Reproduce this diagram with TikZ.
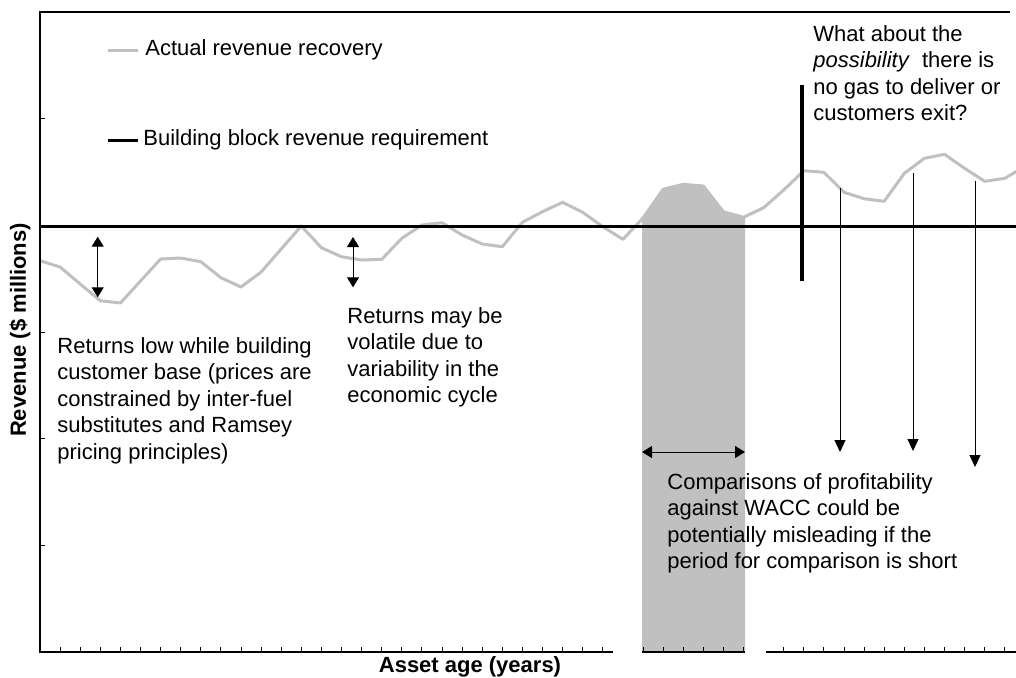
\documentclass[tikz,border=0pt]{standalone}
\usepackage{fontspec}
\setmainfont{Liberation Sans}
\usetikzlibrary{arrows.meta}
\definecolor{silver}{RGB}{192,192,192}
\begin{document}
\begin{tikzpicture}[x=0.5pt,y=-0.5pt,
  txt/.style={font=\fontsize{11}{13.25}\selectfont, align=left, inner sep=0pt, anchor=north west},
  legtxt/.style={font=\fontsize{11}{13.25}\selectfont, inner sep=0pt, anchor=west},
  lbl/.style={font=\fontsize{11}{13.25}\selectfont\bfseries, inner sep=0pt},
  revline/.style={draw=silver, line width=1.5pt, line join=round},
  reqline/.style={draw=black, line width=1.5pt},
  axisline/.style={draw=black, line width=0.6pt},
  tickmark/.style={draw=black, line width=0.5pt},
  dbl/.style={{Triangle[length=5pt,width=6pt]}-{Triangle[length=5pt,width=6pt]}, line width=0.5pt},
  drop/.style={-{Triangle[length=6pt,width=5.5pt]}, line width=0.5pt},
  cutoff/.style={draw=black, line width=2pt}
]
\useasboundingbox (0,0) rectangle (1016,677);
\begin{scope}
\clip (0,0) rectangle (1016,677);
% shaded comparison period
\fill[silver] (642,652) -- (642,218) -- (663.1,189.3) -- (683.2,184.3) -- (703.3,186) -- (723.4,211.7) -- (745,217.3) -- (745,652) -- cycle;
% actual revenue recovery
\draw[revline] plot coordinates {
(40,260.7) (60.1,267) (80.2,284) (100.3,300.7) (120.4,303) (140.5,281)
(160.6,259) (180.7,258) (200.8,261.7) (220.9,277.7) (241,287) (261.1,272)
(281.2,249) (301.3,226) (321.4,247.7) (341.5,256.7) (361.6,260) (381.7,259.3)
(401.8,238.3) (421.9,225) (442,222.7) (462.1,235) (482.2,244) (502.3,246.7)
(522.4,222.3) (542.5,211.7) (562.6,202.3) (582.7,212.3) (602.8,226.7) (622.9,239.3)
(643,218) (663.1,189.3) (683.2,184.3) (703.3,186) (723.4,211.7) (743.5,217.3)
(763.6,207.7) (783.7,190) (803.8,170.7) (823.9,172.3) (844,192.3) (864.1,198.7)
(884.2,201.3) (904.3,173.3) (924.4,158.3) (944.5,154.3) (964.6,168.3) (984.7,181.3)
(1004.8,178.3) (1024.9,166.5)};
% building block revenue requirement
\coordinate (reqL) at (40,226);
\coordinate (reqR) at (1020,226);
\draw[reqline] (reqL) -- (reqR);
\end{scope}
% axes
\coordinate (topR) at (1010,12);
\coordinate (origin) at (40,12);
\coordinate (corner) at (40,652);
\draw[axisline] (topR) -- (origin) -- (corner) -- (613,652);
\draw[axisline] (642,652) -- (745,652);
\draw[axisline] (766,652) -- (1016,652);
\foreach \k in {1,...,28,30,31,...,35,37,38,...,48}
  \draw[tickmark] ({40+20.1*\k},652) -- ({40+20.1*\k},647);
\foreach \j in {1,...,5}
  \draw[tickmark] (40,{12+106.67*\j}) -- (45,{12+106.67*\j});
% legend
\coordinate (lg1a) at (108,50); \coordinate (lg1b) at (138,50);
\draw[revline] (lg1a) -- (lg1b);
\node[legtxt] (leg1) at (145,50) {Actual revenue recovery};
\coordinate (lg2a) at (108,140); \coordinate (lg2b) at (138,140);
\draw[reqline] (lg2a) -- (lg2b);
\node[legtxt] (leg2) at (143,140) {Building block revenue requirement};
% annotations
\node[txt] (low) at (57,337) {Returns low while building\\customer base (prices are\\constrained by inter-fuel\\substitutes and Ramsey\\pricing principles)};
\node[txt] (vol) at (347,307) {Returns may be\\volatile due to\\variability in the\\economic cycle};
\node[txt] (cmp) at (667,473) {Comparisons of profitability\\against WACC could be\\potentially misleading if the\\period for comparison is short};
\node[txt] (what) at (813,25) {What about the\\\textit{possibility}~ there is\\no gas to deliver or\\customers exit?};
% arrows
\coordinate (d1a) at (97.7,236.7); \coordinate (d1b) at (97.7,297.3);
\draw[dbl] (d1a) -- (d1b);
\coordinate (d2a) at (353,237); \coordinate (d2b) at (353,287.3);
\draw[dbl] (d2a) -- (d2b);
\coordinate (d3a) at (642,452); \coordinate (d3b) at (745,452);
\draw[dbl] (d3a) -- (d3b);
\coordinate (c1) at (802,85); \coordinate (c2) at (802,281);
\draw[cutoff] (c1) -- (c2);
\coordinate (e1a) at (840,188); \coordinate (e1b) at (840,452);
\draw[drop] (e1a) -- (e1b);
\coordinate (e2a) at (913,173); \coordinate (e2b) at (913,451);
\draw[drop] (e2a) -- (e2b);
\coordinate (e3a) at (975,181); \coordinate (e3b) at (975,467);
\draw[drop] (e3a) -- (e3b);
% axis titles
\node[lbl, rotate=90] (ylab) at (20,330) {Revenue (\$ millions)};
\node[lbl] (xlab) at (470,667) {Asset age (years)};
\end{tikzpicture}
\end{document}
